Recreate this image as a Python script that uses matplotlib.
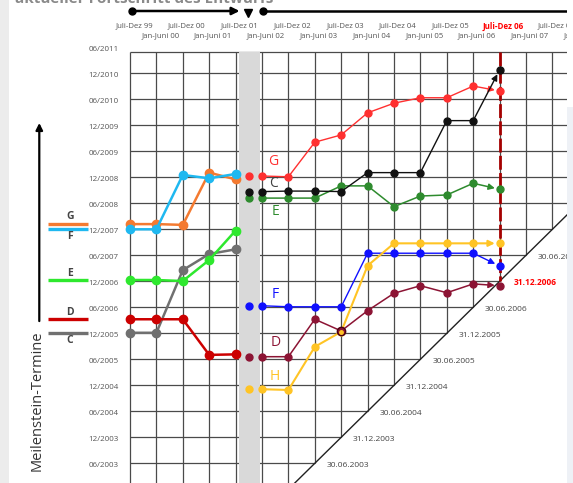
import numpy as np
import matplotlib
matplotlib.use("Agg")
import matplotlib.pyplot as plt
from matplotlib.patches import Rectangle

plt.rcParams["font.family"] = ["Open Sans", "DejaVu Sans"]

# =========================
# DATA
# =========================
# milestone dates as half-year index: 0 = 06/2003, 1 = 12/2003, ...
y_labels = ["06/2003", "12/2003", "06/2004", "12/2004", "06/2005", "12/2005",
            "06/2006", "12/2006", "06/2007", "12/2007", "06/2008", "12/2008",
            "06/2009", "12/2009", "06/2010", "12/2010", "06/2011"]

# report periods (columns)
period_labels = ["Juli-Dez 99", "Jan-Juni 00", "Juli-Dez 00", "Jan-Juni 01",
                 "Juli-Dez 01", "Jan-Juni 02", "Juli-Dez 02", "Jan-Juni 03",
                 "Juli-Dez 03", "Jan-Juni 04", "Juli-Dez 04", "Jan-Juni 05",
                 "Juli-Dez 05", "Jan-Juni 06", "Juli-Dez 06", "Jan-Juni 07",
                 "Juli-Dez 07", "Jan-Juni 08"]
current_period = 14

diag_labels = ["30.06.2003", "31.12.2003", "30.06.2004", "31.12.2004",
               "30.06.2005", "31.12.2005", "30.06.2006", "31.12.2006",
               "30.06.2007"]

# old project (left of the gap)
left_cols = [0, 1, 2, 3, 4]
g_left = [9.2, 9.2, 9.17, 11.18, 10.92]
f_left = [9.0, 9.0, 11.09, 10.96, 11.13]
e_left = [7.05, 7.05, 7.01, 7.82, 8.95]
c_left = [5.02, 5.02, 7.43, 8.05, 8.23]
d_left = [5.54, 5.54, 5.54, 4.17, 4.19]

# new project (right of the gap)
right_start = 4.5
right_cols = [5, 6, 7, 8, 9, 10, 11, 12, 13, 14]
g_right = [11.05, 11.02, 12.35, 12.63, 13.48, 13.85, 14.06, 14.06, 14.51, 14.32]
c_right = [10.45, 10.47, 10.47, 10.45, 11.18, 11.18, 11.18, 13.18, 13.18, 15.13]
e_right = [10.2, 10.2, 10.2, 10.67, 10.67, 9.87, 10.28, 10.32, 10.77, 10.54]
f_right = [6.06, 6.02, 6.02, 6.02, 8.08, 8.08, 8.08, 8.08, 8.08, 7.59]
d_right = [4.1, 4.1, 5.54, 5.09, 5.87, 6.54, 6.83, 6.56, 6.9, 6.83]
h_right = [2.85, 2.82, 4.48, 5.06, 7.6, 8.46, 8.46, 8.46, 8.46, 8.46]

# =========================
# FIGURE / SCALE
# =========================
W, H = 573, 483
PX, PY = 26.4, 26.0          # pixels per column / per half-year
X0, Y0 = 130, 463.3          # pixel position of column 0 / 06/2003

fig = plt.figure(figsize=(W / 100, H / 100), dpi=100)
ax = fig.add_axes([0, 0, 1, 1])
ax.set_xlim(-X0 / PX, (W - X0) / PX)
ax.set_ylim((Y0 - H) / PY, Y0 / PY)
ax.axis("off")

bottom = ax.get_ylim()[0]
top = 15.83
right = 16.55
grid_kw = dict(color="#4a4a4a", lw=0.9, zorder=1, solid_capstyle="butt")

# =========================
# GRID (cut at the diagonal)
# =========================
for k in range(17):
    ax.plot([k, k], [top, max(bottom, k - 7)], **grid_kw)
for j in range(16):
    ax.plot([0, min(right, j + 7)], [j, j], **grid_kw)
ax.plot([0, right], [top, top], **grid_kw)
ax.plot([bottom + 7, right], [bottom, right - 7], color="#202020", lw=1.0, zorder=1)

ax.add_patch(Rectangle((4.13, bottom), 0.79, top - bottom, color="#d9d9d9", zorder=2, lw=0))

ax.plot([current_period, current_period], [top, current_period - 7],
        color="#a50000", lw=2.0, ls=(0, (5, 1.2)), zorder=2.5)

# =========================
# SERIES
# =========================
left_series = [(c_left, "#707070"), (d_left, "#cc0000"), (g_left, "#f47a30"),
               (f_left, "#1fb8f0"), (e_left, "#2ee82e")]
for vals, col in left_series:
    ax.plot(left_cols, vals, "-o", color=col, lw=1.8, ms=6, zorder=4)


def draw_right(vals, col, lw):
    ax.plot(right_start, vals[0], "o", color=col, ms=5, zorder=5)
    ax.plot(right_cols[:-1], vals[:-1], "-o", color=col, lw=lw, ms=5, zorder=5)
    ax.annotate("", xy=(right_cols[-1], vals[-1]), xytext=(right_cols[-2], vals[-2]),
                arrowprops=dict(arrowstyle="-|>", color=col, lw=lw, mutation_scale=9,
                                shrinkA=0, shrinkB=3.5), zorder=5)
    ax.plot(right_cols[-1], vals[-1], "o", color=col, ms=5, zorder=5)


draw_right(g_right, "#ff3030", 1.0)
draw_right(e_right, "#2e8b2e", 1.1)
draw_right(c_right, "#111111", 1.0)
draw_right(f_right, "#1010ff", 1.0)
draw_right(h_right, "#ffc425", 1.5)
draw_right(d_right, "#8c1434", 1.1)
# D and H meet in the same point
ax.plot(right_cols[3], d_right[3], "o", color="#8c1434", mec="#4a0010", ms=6, zorder=6)
ax.plot(right_cols[3], h_right[3], "o", color="#ffc425", ms=2.5, zorder=6)

# letters next to the new series
name_kw = dict(fontsize=10, ha="center", va="center", zorder=6)
ax.text(5.42, g_right[0] + 0.55, "G", color="#ff3030", **name_kw)
ax.text(5.45, c_right[0] + 0.33, "C", color="#404040", **name_kw)
ax.text(5.5, e_right[0] - 0.5, "E", color="#2e8b2e", **name_kw)
ax.text(5.5, f_right[0] + 0.42, "F", color="#1010ff", **name_kw)
ax.text(5.5, d_right[0] + 0.54, "D", color="#8c1434", **name_kw)
ax.text(5.5, h_right[0] + 0.47, "H", color="#ffc425", **name_kw)

# =========================
# LEFT LEGEND + AXIS ARROW
# =========================
leg = [(g_left, "#f47a30", "G", 0.28), (f_left, "#1fb8f0", "F", -0.28),
       (e_left, "#2ee82e", "E", 0.26), (d_left, "#cc0000", "D", 0.26),
       (c_left, "#707070", "C", -0.3)]
for vals, col, name, off in leg:
    ax.plot([-3.12, -1.58], [vals[0], vals[0]], color=col, lw=2.4, zorder=3,
            solid_capstyle="butt")
    ax.text(-2.27, vals[0] + off, name, color="#444444", fontsize=7.5,
            fontweight="bold", ha="center", va="center")

ax.annotate("", xy=(-3.436, 13.09), xytext=(-3.436, 5.47),
            arrowprops=dict(arrowstyle="-|>", color="black", lw=1.6, mutation_scale=10,
                            shrinkA=0, shrinkB=0))
ax.text(-3.5, 2.4, "Meilenstein-Termine", rotation=90, fontsize=10.5,
        color="#333333", ha="center", va="center")

# =========================
# LABELS
# =========================
for j, lab in enumerate(y_labels):
    ax.text(-0.42, j - 0.1, lab, fontsize=5.8, color="#555555", ha="right", va="center")

for i, lab in enumerate(period_labels):
    y = 16.82 if i % 2 == 0 else 16.43
    if i == current_period:
        ax.text(i + 0.13, y, lab, fontsize=5.8, color="#ff0000", fontweight="bold",
                ha="center", va="center")
    else:
        ax.text(i + 0.15, y, lab, fontsize=5.6, color="#555555", ha="center", va="center")

for j, lab in enumerate(diag_labels):
    if j == current_period - 7:
        ax.text(j + 7 + 0.55, j - 0.05, lab, fontsize=6, color="#ff0000",
                fontweight="bold", ha="left", va="center")
    else:
        ax.text(j + 7 + 0.45, j - 0.08, lab, fontsize=6, color="#444444",
                ha="left", va="center")

# =========================
# TOP ARROW
# =========================
ya = (Y0 - 11) / PY
ax.plot(0.06, ya, "o", color="black", ms=5)
ax.annotate("", xy=(4.15, ya), xytext=(0.06, ya),
            arrowprops=dict(arrowstyle="-|>", color="black", lw=1.8, mutation_scale=11,
                            shrinkA=0, shrinkB=0))
ax.plot(4.47, (Y0 - 13) / PY, "v", color="black", ms=6)
ax.plot(5.04, ya, "o", color="black", ms=5)
ax.plot([5.04, 17], [ya, ya], color="black", lw=1.8)

# title of the slide, mostly cut off by the screenshot
ax.text(-4.35, (Y0 - 3) / PY, "aktueller Fortschritt des Entwurfs", fontsize=11,
        fontweight="bold", color="#8a8a8a", ha="left", va="baseline")

# screenshot edges
ax.add_patch(Rectangle((-X0 / PX, bottom), 9 / PX, 30, color="#ececec", lw=0, zorder=0))
ax.add_patch(Rectangle((right + 0.02, bottom), 1, (Y0 - 107) / PY - bottom,
                       color="#eef1f6", lw=0, zorder=10))
ax.add_patch(Rectangle((right + 0.02, (Y0 - 107) / PY), 1, 10,
                       color="white", lw=0, zorder=10))

plt.savefig("out.png", dpi=100)
plt.close()
print("done")
